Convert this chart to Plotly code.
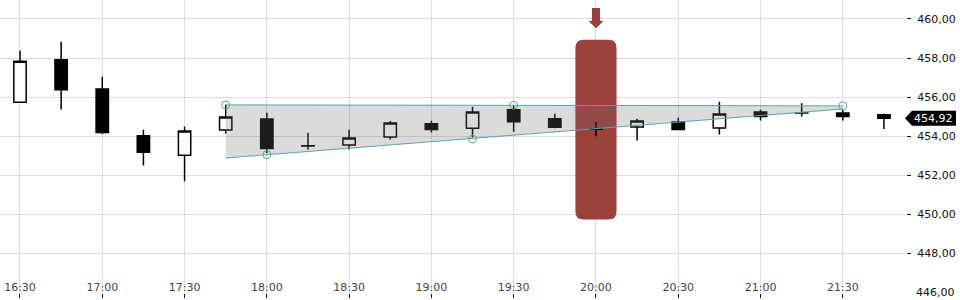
import plotly.graph_objects as go

# ---- data ----
times = ["16:30", "16:45", "17:00", "17:15", "17:30", "17:45", "18:00", "18:15",
         "18:30", "18:45", "19:00", "19:15", "19:30", "19:45", "20:00", "20:15",
         "20:30", "20:45", "21:00", "21:15", "21:30", "21:45"]
opens = [455.74, 457.91, 456.42, 454.02, 453.02, 454.31, 454.88, 453.50,
         453.55, 453.96, 454.64, 454.40, 455.35, 454.89, 454.36, 454.47,
         454.72, 454.42, 455.23, 455.18, 455.18, 455.10]
highs = [458.37, 458.83, 457.04, 454.33, 454.48, 455.61, 455.20, 454.18,
         454.33, 454.77, 454.79, 455.50, 455.57, 455.15, 454.74, 454.89,
         454.94, 455.76, 455.35, 455.69, 455.35, 455.15]
lows = [455.70, 455.37, 454.11, 452.50, 451.69, 454.14, 453.14, 453.32,
        453.32, 453.83, 454.19, 453.94, 454.23, 454.40, 453.99, 453.78,
        454.33, 454.09, 454.80, 455.01, 454.80, 454.36]
closes = [457.84, 456.37, 454.19, 453.17, 454.26, 454.98, 453.37, 453.51,
          453.90, 454.67, 454.34, 455.23, 454.74, 454.45, 454.37, 454.77,
          454.34, 455.13, 455.01, 455.19, 455.01, 454.92]

tick_labels = ["16:30", "17:00", "17:30", "18:00", "18:30", "19:00",
               "19:30", "20:00", "20:30", "21:00", "21:30"]
price_ticks = [446, 448, 450, 452, 454, 456, 458, 460]

# triangle drawing (index of candle, price)
tri_top_x = [5, 20]
tri_top_y = [455.60, 455.55]
tri_bot_x = [5, 20]
tri_bot_y = [452.88, 455.39]
tri_pts_x = [5, 6, 11, 12, 20]
tri_pts_y = [455.60, 453.05, 453.85, 455.58, 455.55]

# highlighted candle
hl_index = 14
hl_low, hl_high = 449.73, 458.93
arrow_top, arrow_neck, arrow_tip = 460.56, 459.90, 459.53

y_min, y_max = 445.97, 460.97
x_min, x_max = -0.486, 21.536

RED = "#9b3d38"
TEAL = "#5fa3a6"
FONT = "DejaVu Sans"
TXT = "#111"

xs = list(range(len(times)))
tickvals = [xs[times.index(t)] for t in tick_labels]

fig = go.Figure()

# triangle fill
fig.add_trace(go.Scatter(
    x=[tri_top_x[0], tri_top_x[1], tri_bot_x[1], tri_bot_x[0]],
    y=[tri_top_y[0], tri_top_y[1], tri_bot_y[1], tri_bot_y[0]],
    fill="toself", fillcolor="rgba(110,110,110,0.25)", mode="lines",
    line=dict(width=0), hoverinfo="skip", showlegend=False))
fig.add_trace(go.Scatter(x=tri_top_x, y=tri_top_y, mode="lines",
                         line=dict(color=TEAL, width=1), showlegend=False))
fig.add_trace(go.Scatter(x=tri_bot_x, y=tri_bot_y, mode="lines",
                         line=dict(color=TEAL, width=1), showlegend=False))

fig.add_trace(go.Candlestick(
    x=xs, open=opens, high=highs, low=lows, close=closes,
    increasing=dict(line=dict(color="black", width=1.5), fillcolor="white"),
    decreasing=dict(line=dict(color="black", width=1.5), fillcolor="black"),
    whiskerwidth=0, showlegend=False))

fig.add_trace(go.Scatter(x=tri_pts_x, y=tri_pts_y, mode="markers",
                         marker=dict(symbol="circle-open", size=8,
                                     color=TEAL, line=dict(width=1)),
                         showlegend=False))

# rounded highlight rectangle
px_per_x = 906 / (x_max - x_min)
px_per_y = 293 / (y_max - y_min)
rx = 8 / px_per_x
ry = 8 / px_per_y
x0, x1 = hl_index - 0.5, hl_index + 0.5
path = (f"M {x0+rx},{hl_high} L {x1-rx},{hl_high} Q {x1},{hl_high} {x1},{hl_high-ry} "
        f"L {x1},{hl_low+ry} Q {x1},{hl_low} {x1-rx},{hl_low} "
        f"L {x0+rx},{hl_low} Q {x0},{hl_low} {x0},{hl_low+ry} "
        f"L {x0},{hl_high-ry} Q {x0},{hl_high} {x0+rx},{hl_high} Z")
fig.add_shape(type="path", path=path, fillcolor=RED, line=dict(width=0),
              layer="between", opacity=0.98)

sw = 4 / px_per_x
hw = 7.5 / px_per_x
c = hl_index
apath = (f"M {c-sw},{arrow_top} L {c+sw},{arrow_top} L {c+sw},{arrow_neck} "
         f"L {c+hw},{arrow_neck} L {c},{arrow_tip} L {c-hw},{arrow_neck} "
         f"L {c-sw},{arrow_neck} Z")
fig.add_shape(type="path", path=apath, fillcolor=RED, line=dict(width=0),
              layer="above")

# last price label
last = closes[-1]
label = f"{last:.2f}".replace(".", ",")
pw = 906
ph = 7.5 / px_per_y
ppath = (f"M {905/pw},{last} L {912/pw},{last+ph} L {956/pw},{last+ph} "
         f"L {956/pw},{last-ph} L {912/pw},{last-ph} Z")
fig.add_shape(type="path", path=ppath, xref="paper", yref="y",
              fillcolor="black", line=dict(width=0), layer="above")
fig.add_annotation(x=934 / pw, y=last, xref="paper", yref="y", text=label,
                   showarrow=False, xanchor="center", yanchor="middle",
                   font=dict(family=FONT, size=11, color="white"))

# bottom price label (plotly hides it because it overflows the page)
bottom_label = f"{price_ticks[0]:.2f}".replace(".", ",")
fig.add_annotation(x=914 / pw, y=price_ticks[0], xref="paper", yref="y",
                   text=bottom_label, showarrow=False, xanchor="left",
                   yanchor="middle", font=dict(family=FONT, size=11, color=TXT))

fig.update_layout(
    width=960, height=300,
    margin=dict(l=0, r=54, t=0, b=7),
    paper_bgcolor="white", plot_bgcolor="white",
    separators=",.",
    boxgap=0.4, boxgroupgap=0.5,
    font=dict(family=FONT, size=11, color=TXT),
    showlegend=False,
    xaxis=dict(range=[x_min, x_max], tickmode="array", tickvals=tickvals,
               ticktext=tick_labels, showgrid=True, gridcolor="#dddddd",
               gridwidth=1, ticks="outside", ticklen=4, tickcolor=TXT,
               ticklabelposition="inside", ticklabelstandoff=-3,
               zeroline=False,
               rangeslider=dict(visible=False), showline=False),
    yaxis=dict(range=[y_min, y_max], side="right", tickmode="array",
               tickvals=price_ticks,
               tickformat=".2f", showgrid=True, gridcolor="#dddddd",
               gridwidth=1, ticks="outside", ticklen=4, tickcolor=TXT,
               zeroline=False, showline=False, ticklabelstandoff=4,
               ticklabeloverflow="allow"),
)

fig.write_html("out.html")
